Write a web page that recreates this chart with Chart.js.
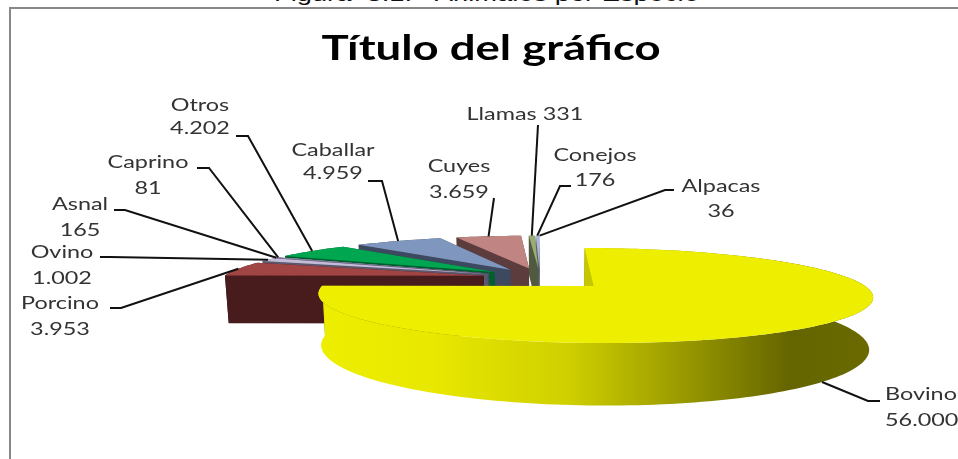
<!DOCTYPE html>
<html>
<head>
<meta charset="utf-8">
<script src="https://cdn.jsdelivr.net/npm/chart.js@4"></script>
<style>
  html, body { margin: 0; height: 100%; background: #fff; overflow: hidden; }
  #caption { position: absolute; left: 274px; top: -18px; font: 21px "Liberation Sans", Arial, sans-serif; color: #111; white-space: pre; transform: scaleX(1.3); transform-origin: left top; }
  #frame { position: absolute; left: 9px; top: 7px; width: 1000px; height: 500px; border: 2px solid #888; }
  #myChart { position: absolute; left: 0; top: 0; }
</style>
</head>
<body>
<div id="caption">Figura  3.1.-  Animales por Especie</div>
<div id="frame"><canvas id="myChart" width="960" height="450"></canvas></div>
<script>
const chartTitle = 'Título del gráfico';
const categories = ['Bovino', 'Porcino', 'Ovino', 'Asnal', 'Caprino', 'Otros', 'Caballar', 'Cuyes', 'Llamas', 'Conejos', 'Alpacas'];
const values = [56000, 3953, 1002, 165, 81, 4202, 4959, 3659, 331, 176, 36];

// colores
const topColors = ['#eeee00', '#a04543', '#c4bcd6', '#9a8fc0', '#d8d8e8', '#00a650', '#7f96bf', '#c08482', '#9bab72', '#a9b8dc', '#d9dde8'];
const sideColors = ['#7f7f00', '#481c1c', '#5c5870', '#4a4460', '#77778a', '#005f2c', '#3d495f', '#5c3c3c', '#4f5a40', '#5a6070', '#70747c'];
const wallStops = [[0, '#eeee00'], [0.2, '#e8e800'], [0.45, '#cfcf00'], [0.6, '#a8a800'], [0.85, '#656500'], [1, '#6a6a00']];

// etiquetas: x centro, y de cada linea, codo de la linea guia [x1, x2, y]
const labelX = [885, 60, 62, 80, 148, 200, 333, 459, 525, 595, 721];
const labelY = [[394, 420], [303, 329], [252, 278], [204, 230], [162, 188], [105, 128], [150, 173], [166, 192], [114], [155, 180], [186, 211]];
const elbows = [[880, 868, 401], [110, 121, 308], [100, 110, 257], [114, 125, 210], [197, 209, 168], [236, 248, 136], [368, 382, 181], [494, 494, 198], [538, 538, 125], [571, 560, 186], [674, 665, 190]];

// perspectiva del pastel, en pixeles de la pagina
const view = { x0: 540, y0: 286, radius: 271.5, squash: 45.6, persp: 0.2, depth: 50, taper: 0.012, centerV: -0.198 };
const explode = [0.28, 0.22, 0.22, 0.22, 0.22, 0.22, 0.22, 0.22, 0.22, 0.22, 0.22];
const pageX = 11, pageY = 9;
const stretch = 1.3; // la imagen original esta estirada a lo ancho

function project(u, v, z) {
    // u,v en el plano del pastel (radio = 1), z de 0 (arriba) a 1 (abajo)
    v = v + view.centerV;
    const s = 1 / (1 - view.persp * v);
    return {
        x: view.x0 - pageX + u * view.radius * s * (1 - view.taper * z),
        y: view.y0 - pageY + (view.squash * v + view.depth * z) * s
    };
}

function slicePoints(el, i) {
    const mid = (el.startAngle + el.endAngle) / 2;
    const ax = Math.cos(mid) * explode[i], ay = Math.sin(mid) * explode[i];
    const n = Math.max(2, Math.ceil((el.endAngle - el.startAngle) * 40));
    const rim = [];
    for (let k = 0; k <= n; k++) {
        const a = el.startAngle + (el.endAngle - el.startAngle) * k / n;
        rim.push([ax + Math.cos(a), ay + Math.sin(a)]);
    }
    return { apex: [ax, ay], rim, mid };
}

function fillPoly(ctx, pts, color) {
    ctx.beginPath();
    pts.forEach((p, i) => i ? ctx.lineTo(p.x, p.y) : ctx.moveTo(p.x, p.y));
    ctx.closePath();
    ctx.fillStyle = color;
    ctx.fill();
}

function stretchedText(ctx, text, x, y) {
    ctx.save();
    ctx.translate(x - pageX, y - pageY);
    ctx.scale(stretch, 1);
    ctx.fillText(text, 0, 0);
    ctx.restore();
}

const pie3d = {
    id: 'pie3d',
    beforeDatasetsDraw(chart) {
        const ctx = chart.ctx;
        const arcs = chart.getDatasetMeta(0).data;
        const order = arcs.map((el, i) => ({ i, s: slicePoints(el, i) }))
            .sort((a, b) => a.s.apex[1] - b.s.apex[1]);

        const grad = ctx.createLinearGradient(322 - pageX, 0, 872 - pageX, 0);
        wallStops.forEach(st => grad.addColorStop(st[0], st[1]));

        order.forEach(({ i, s }) => {
            const side = sideColors[i];
            const ends = [s.rim[0], s.rim[s.rim.length - 1]];
            ends.forEach(e => {
                fillPoly(ctx, [project(s.apex[0], s.apex[1], 0), project(e[0], e[1], 0), project(e[0], e[1], 1), project(s.apex[0], s.apex[1], 1)], side);
            });
            const wall = s.rim.map(p => project(p[0], p[1], 0)).concat(s.rim.slice().reverse().map(p => project(p[0], p[1], 1)));
            fillPoly(ctx, wall, i === 0 ? grad : side);
            const top = [project(s.apex[0], s.apex[1], 0)].concat(s.rim.map(p => project(p[0], p[1], 0)));
            fillPoly(ctx, top, topColors[i]);
        });

        // lineas guia y etiquetas
        ctx.strokeStyle = '#111';
        ctx.lineWidth = 2;
        arcs.forEach((el, i) => {
            const s = slicePoints(el, i);
            const e = project(s.apex[0] + Math.cos(s.mid), s.apex[1] + Math.sin(s.mid), i === 0 ? 1 : 0);
            const b = elbows[i];
            ctx.beginPath();
            ctx.moveTo(b[0] - pageX, b[2] - pageY);
            ctx.lineTo(b[1] - pageX, b[2] - pageY);
            ctx.lineTo(e.x, e.y);
            ctx.stroke();
        });

        ctx.textBaseline = 'middle';
        ctx.fillStyle = '#000';
        ctx.textAlign = 'center';
        ctx.font = 'bold 35px Lato, sans-serif';
        stretchedText(ctx, chartTitle, 491, 49);

        ctx.fillStyle = '#333';
        ctx.font = '18px Lato, sans-serif';
        categories.forEach((name, i) => {
            const val = values[i].toString().replace(/\B(?=(\d{3})+$)/g, '.');
            const ys = labelY[i];
            ctx.textAlign = i === 0 ? 'left' : 'center';
            if (ys.length === 1) {
                stretchedText(ctx, name + ' ' + val, labelX[i], ys[0]);
            } else {
                stretchedText(ctx, name, labelX[i], ys[0]);
                stretchedText(ctx, val, labelX[i], ys[1]);
            }
        });
        return false;
    }
};

new Chart(document.getElementById('myChart'), {
    type: 'pie',
    data: {
        labels: categories,
        datasets: [{ data: values, backgroundColor: topColors, borderWidth: 0 }]
    },
    options: {
        responsive: false,
        animation: false,
        events: [],
        plugins: {
            legend: { display: false },
            tooltip: { enabled: false }
        }
    },
    plugins: [pie3d]
});
</script>
</body>
</html>
